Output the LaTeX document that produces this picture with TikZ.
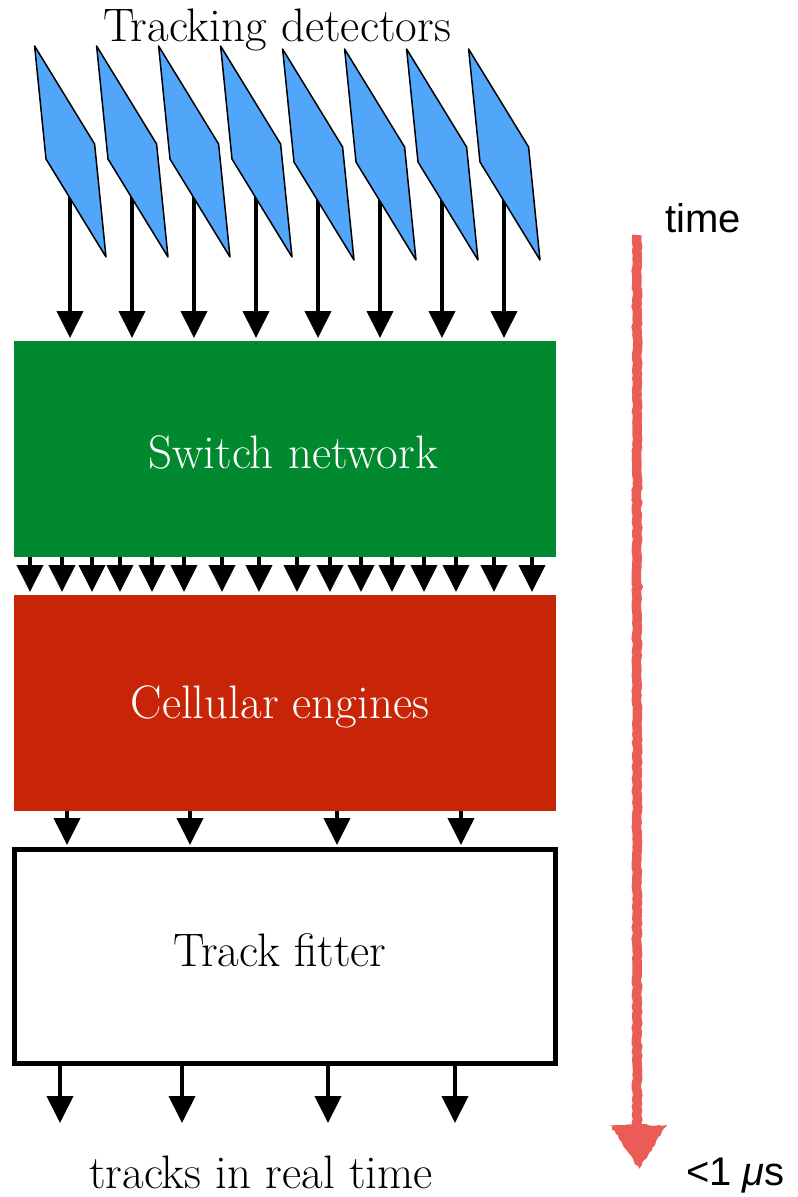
\documentclass[tikz,border=0pt]{standalone}
\usepackage{fontspec}
\newfontfamily\sansf{Liberation Sans}
\usetikzlibrary{arrows.meta,decorations.pathmorphing}
\definecolor{swgreen}{RGB}{0,137,46}
\definecolor{cered}{RGB}{200,37,8}
\definecolor{detblue}{RGB}{82,166,250}
\definecolor{timered}{RGB}{236,92,86}
\begin{document}
\begin{tikzpicture}[x=1pt,y=-1pt,
  arr/.style={line width=4pt, -{Triangle[width=26pt,length=27pt]}},
  block/.style={minimum width=542pt, minimum height=216pt, inner sep=0pt, outer sep=0pt},
  lbl/.style={font=\fontsize{47}{54}\selectfont, inner sep=0pt, anchor=base},
  sanslbl/.style={font=\sansf\fontsize{40}{48}\selectfont, inner sep=0pt, anchor=base west},
  det/.style={fill=detblue, draw=black, line width=1.5pt, line join=round},
  timeline/.style={timered, line width=9.5pt, decorate, decoration={random steps, segment length=4pt, amplitude=0.8pt}}]
\useasboundingbox (0,0) rectangle (798,1197);

% blocks
\node[block, fill=swgreen] (sw) at (285,449) {};
\node[block, fill=cered] (ce) at (285,703) {};
\node[draw=black, line width=5pt, minimum width=541pt, minimum height=214pt, inner sep=0pt] (tf) at (285,956.5) {};

% detector arrows
\foreach \i in {0,...,7} {
  \coordinate (a\i) at (70+62*\i, 185);
  \draw[arr, shorten >=3pt] (a\i) -- (a\i |- sw.north);
}
% detectors
\foreach \i in {0,...,7} {
  \pgfmathsetmacro\dy{\i<4 ? 0 : 3}
  \draw[det] (34.6+62*\i, 46+\dy) -- (94.6+62*\i, 144+\dy) -- (106+62*\i, 257+\dy) -- (46+62*\i, 159+\dy) -- cycle;
}

% switch -> engines
\foreach \x [count=\k] in {30,62,92,120,152,184,222,259,297,330,361,392,424,456,494,532} {
  \coordinate (m\k) at (\x, 0);
  \draw[arr, shorten >=3pt] (m\k |- sw.south) -- (m\k |- ce.north);
}
% engines -> fitter
\foreach \x [count=\k] in {67,190,337,461} {
  \coordinate (c\k) at (\x, 0);
  \draw[arr, shorten >=2pt] (c\k |- ce.south) -- (c\k |- tf.north);
}
% fitter -> output
\foreach \x [count=\k] in {60,182,328,455} {
  \coordinate (o\k) at (\x, 1123);
  \draw[arr] (o\k |- tf.south) -- (o\k);
}

% time arrow
\coordinate (t1) at (637,235);
\coordinate (t2) at (637,1135);
\draw[timeline] (t1) -- (t2);
\fill[timered, decorate, decoration={random steps, segment length=3pt, amplitude=1pt}] (610,1125) -- (667,1125) -- (639,1169) -- cycle;

% labels
\node[lbl] (title) at (277,41) {Tracking detectors};
\node[lbl, text=white] (swl) at (293,468) {Switch network};
\node[lbl, text=white] (cel) at (280,718) {Cellular engines};
\node[lbl] (tfl) at (280,966) {Track fitter};
\node[lbl] (outl) at (261,1188) {tracks in real time};
\node[sanslbl] (timel) at (665,232) {time};
\node[sanslbl] (durl) at (686,1185) {<1 {\itshape μ}s};
\end{tikzpicture}
\end{document}
